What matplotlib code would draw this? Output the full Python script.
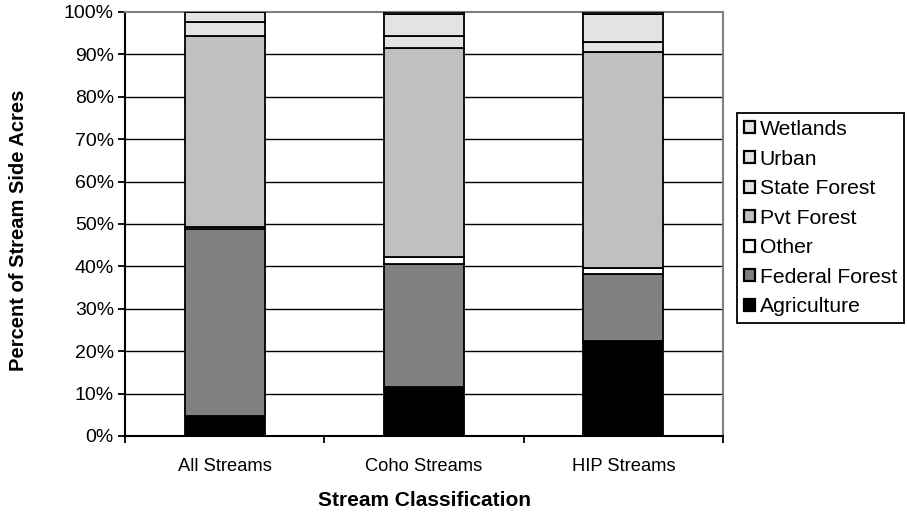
import matplotlib.pyplot as plt
import numpy as np

plt.rcParams['font.family'] = ['Liberation Sans', 'DejaVu Sans']

categories = ['All Streams', 'Coho Streams', 'HIP Streams']
layers = ['Agriculture', 'Federal Forest', 'Other', 'Pvt Forest',
          'State Forest', 'Urban', 'Wetlands']
agriculture = [4.8, 11.6, 22.4]
federal_forest = [44.0, 29.0, 15.7]
other = [0.5, 1.5, 1.5]
pvt_forest = [45.1, 49.4, 51.0]
state_forest = [3.3, 2.9, 2.3]
urban = [2.3, 5.1, 6.6]
wetlands = [0.0, 0.5, 0.5]

values = [agriculture, federal_forest, other, pvt_forest,
          state_forest, urban, wetlands]
colors = ['#000000', '#808080', '#ffffff', '#c0c0c0',
          '#e3e3e3', '#e3e3e3', '#e3e3e3']

W, H = 907, 514
fig = plt.figure(figsize=(W / 100, H / 100), dpi=100)
ax = fig.add_axes([125 / W, (H - 436) / H, (723 - 125) / W, (436 - 12) / H])

x = np.arange(len(categories))
bottom = np.zeros(len(categories))
handles = []
for name, vals, c in zip(layers, values, colors):
    b = ax.bar(x, vals, 0.4, bottom=bottom, color=c, edgecolor='black',
               linewidth=1.3, label=name, zorder=3)
    handles.append(b)
    bottom += np.array(vals)

ax.set_xlim(-0.5, 2.5)
ax.set_ylim(0, 100)
ax.set_yticks(np.arange(0, 101, 10))
ax.set_yticklabels([f'{v}%' for v in range(0, 101, 10)], fontsize=14)
ax.set_xticks(x)
ax.set_xticklabels(categories, fontsize=13.2)
ax.set_xticks([-0.5, 0.5, 1.5, 2.5], minor=True)
ax.tick_params(axis='x', which='major', length=0, pad=16)
ax.tick_params(axis='x', which='minor', length=5, width=1.3, direction='out')
ax.tick_params(axis='y', length=5, width=1.3, direction='out', pad=3)

for v in range(10, 100, 10):
    ax.axhline(v, color='black', linewidth=1, zorder=1)

ax.spines['left'].set_linewidth(1.5)
ax.spines['bottom'].set_linewidth(1.5)
ax.spines['top'].set_color('#808080')
ax.spines['right'].set_color('#808080')
ax.spines['top'].set_linewidth(1.5)
ax.spines['right'].set_linewidth(1.5)
ax.spines['bottom'].set_zorder(4)

fig.text(19 / W, 1 - 230 / H, 'Percent of Stream Side Acres', rotation=90,
         ha='center', va='center', fontsize=14.5, fontweight='bold')
fig.text(424 / W, 1 - 500 / H, 'Stream Classification',
         ha='center', va='center', fontsize=15, fontweight='bold')

leg = fig.legend(handles[::-1], layers[::-1], loc='upper left',
                 bbox_to_anchor=(737 / W, 1 - 113 / H), borderaxespad=0,
                 fontsize=15.2, frameon=True, fancybox=False, edgecolor='black',
                 handlelength=0.5, handleheight=0.5, handletextpad=0.25,
                 labelspacing=0.5, borderpad=0.33, framealpha=1)
leg.get_frame().set_linewidth(1.3)
for h in leg.legend_handles:
    h.set_linewidth(1.6)

fig.savefig('out.png', dpi=100)
